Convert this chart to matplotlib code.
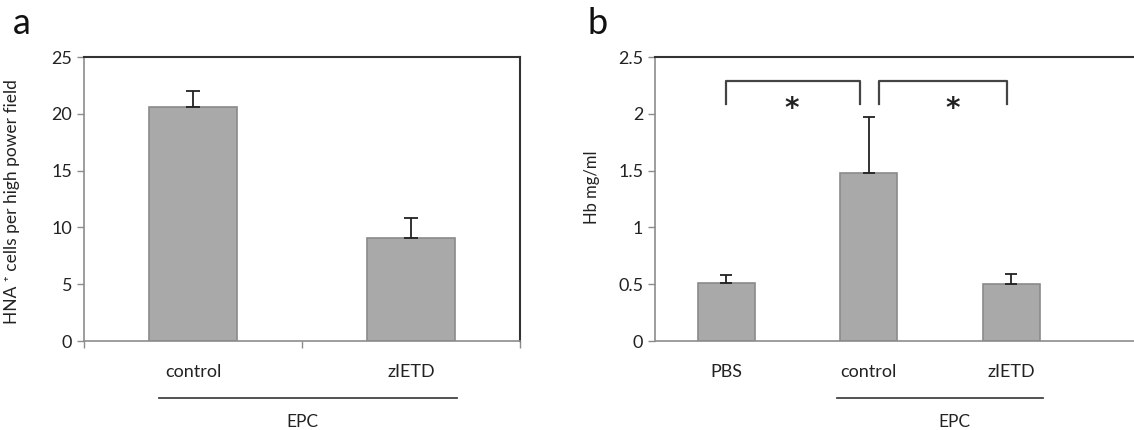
import matplotlib
matplotlib.use("Agg")
import matplotlib.pyplot as plt
import matplotlib.transforms as mtransforms

plt.rcParams['font.family'] = ['Lato', 'DejaVu Sans']

# Panel a data
a_categories = ["control", "zIETD"]
a_values = [20.6, 9.1]
a_errors = [1.4, 1.75]
a_yticks = [0, 5, 10, 15, 20, 25]

# Panel b data
b_categories = ["PBS", "control", "zIETD"]
b_values = [0.51, 1.48, 0.50]
b_errors = [0.07, 0.49, 0.09]
b_yticks = [0, 0.5, 1, 1.5, 2, 2.5]
b_ytick_labels = ["0", "0.5", "1", "1.5", "2", "2.5"]

group_label = "EPC"

W, H = 1134, 430
fig = plt.figure(figsize=(W / 100, H / 100), dpi=100)

bar_face = "#a9a9a9"
bar_edge = "#8a8a8a"
spine_gray = "#8c8c8c"
dark = "#333333"
txt = "#222222"
tick_fs = 13
cat_fs = 13

def fx(px):
    return px / W

def fy(py):
    return 1 - py / H

bottom = fy(341)
height = fy(57) - fy(341)

# ---------------- Panel a ----------------
axa = fig.add_axes([fx(84), bottom, fx(520) - fx(84), height])
xa = list(range(len(a_categories)))
axa.bar(xa, a_values, width=0.4, color=bar_face, edgecolor=bar_edge, linewidth=1.2, zorder=2)
axa.errorbar(xa, a_values, yerr=[[0] * len(a_errors), a_errors], fmt="none",
             ecolor=txt, elinewidth=1.3, capsize=5, capthick=1.3, zorder=3)
axa.set_xlim(-0.5, 1.5)
axa.set_ylim(0, 25)
axa.set_yticks(a_yticks)
axa.set_yticklabels([str(t) for t in a_yticks], fontsize=tick_fs, color=txt)
axa.set_xticks([-0.5, 0.5, 1.5])
axa.set_xticklabels([])
axa.tick_params(axis="both", direction="out", length=5, color=spine_gray, width=1)
for s in ["left", "bottom"]:
    axa.spines[s].set_color(spine_gray)
    axa.spines[s].set_linewidth(1.2)
for s in ["top", "right"]:
    axa.spines[s].set_color(dark)
    axa.spines[s].set_linewidth(1.5)
axa.set_ylabel("HNA ⁺ cells per high power field", fontsize=12.5, color=txt)
axa.yaxis.set_label_coords(-(84 - 20) / 436, 0.49)

ta = mtransforms.blended_transform_factory(axa.transData, axa.transAxes)
for i, c in enumerate(a_categories):
    axa.text(i, -0.109, c, transform=ta, ha="center", va="center", fontsize=cat_fs, color=txt)
axa.plot([-0.156, 1.21], [-0.2007, -0.2007], transform=ta, color="#444444", lw=1.3, clip_on=False)
axa.text(0.5, -0.285, group_label, transform=ta, ha="center", va="center", fontsize=12.5, color=txt)

# ---------------- Panel b ----------------
axb = fig.add_axes([fx(655), bottom, 1.0 - fx(655), height])
xb = list(range(len(b_categories)))
axb.bar(xb, b_values, width=0.4, color=bar_face, edgecolor=bar_edge, linewidth=1.2, zorder=2)
axb.errorbar(xb, b_values, yerr=[[0] * len(b_errors), b_errors], fmt="none",
             ecolor=txt, elinewidth=1.3, capsize=4, capthick=1.3, zorder=3)
axb.set_xlim(-0.5, (1134 - 655) / 142.5 - 0.5)
axb.set_ylim(0, 2.5)
axb.set_yticks(b_yticks)
axb.set_yticklabels(b_ytick_labels, fontsize=tick_fs, color=txt)
axb.set_xticks([])
axb.tick_params(axis="y", direction="out", length=5, color=spine_gray, width=1)
axb.spines["right"].set_visible(False)
for s in ["left", "bottom"]:
    axb.spines[s].set_color(spine_gray)
    axb.spines[s].set_linewidth(1.2)
axb.spines["top"].set_color(dark)
axb.spines["top"].set_linewidth(1.5)
axb.set_ylabel("Hb mg/ml", fontsize=12, color=txt)
axb.yaxis.set_label_coords(-(655 - 600) / 479, 0.54)

# significance brackets
bracket_color = "#444444"
axb.plot([0.0, 0.0, 0.94, 0.94], [2.09, 2.29, 2.29, 2.09], color=bracket_color, lw=1.6)
axb.plot([1.07, 1.07, 1.97, 1.97], [2.09, 2.29, 2.29, 2.09], color=bracket_color, lw=1.6)
axb.text(0.46, 2.04, "*", ha="center", va="center", fontsize=20, color=txt,
         family="DejaVu Sans", fontweight="bold")
axb.text(1.59, 2.04, "*", ha="center", va="center", fontsize=20, color=txt,
         family="DejaVu Sans", fontweight="bold")

tb = mtransforms.blended_transform_factory(axb.transData, axb.transAxes)
for i, c in enumerate(b_categories):
    axb.text(i, -0.109, c, transform=tb, ha="center", va="center", fontsize=cat_fs, color=txt)
axb.plot([0.78, 2.22], [-0.2007, -0.2007], transform=tb, color="#444444", lw=1.3, clip_on=False)
axb.text(1.6, -0.285, group_label, transform=tb, ha="center", va="center", fontsize=12.5, color=txt)

# panel letters
fig.text(fx(22), fy(24), "a", ha="center", va="center", fontsize=26, color="#111111")
fig.text(fx(598), fy(24), "b", ha="center", va="center", fontsize=26, color="#111111")

fig.savefig("out.png", dpi=100)
